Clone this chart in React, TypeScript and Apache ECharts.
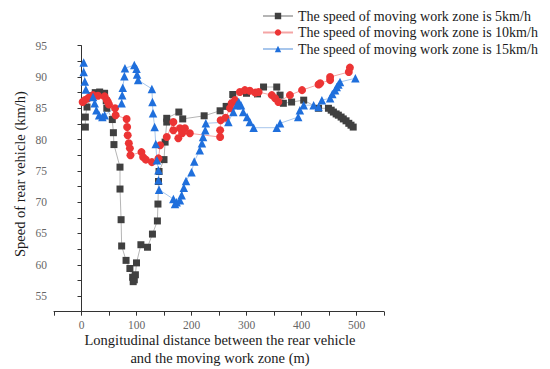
import React, { useEffect, useRef } from "react";
import * as echarts from "echarts";

const legendNames = [
  "The speed of moving work zone is 5km/h",
  "The speed of moving work zone is 10km/h",
  "The speed of moving work zone is 15km/h",
];

const xTitleLines = [
  "Longitudinal distance between the rear vehicle",
  "and the moving work zone (m)",
];
const yTitle = "Speed of rear vehicle (km/h)";

// 5 km/h series: [distance, speed]
const speed5: number[][] = [
  [7, 82.0], [7, 83.6], [10, 85.2], [18, 87.0], [25, 87.5], [33, 87.6], [42, 87.4],
  [45, 86.2], [46, 85.0], [56, 83.2], [58, 81.1], [59, 79.2], [70, 75.6], [70, 72.1],
  [72, 67.2], [73, 63.0], [81, 60.7], [88, 59.4], [93, 58.0], [94, 57.3], [96, 57.6],
  [98, 58.4], [100, 60.3], [108, 63.2], [120, 62.8], [129, 64.9], [138, 67.0],
  [139, 69.7], [140, 73.3], [141, 74.9], [150, 76.8], [152, 79.6], [155, 82.8],
  [155, 83.4], [177, 84.4], [184, 83.3], [223, 83.8], [252, 84.6], [263, 85.3],
  [275, 87.2], [300, 87.4], [320, 87.3], [331, 88.4], [355, 88.4], [361, 87.1],
  [367, 85.8], [382, 86.0], [404, 86.3], [431, 85.0], [449, 85.0], [454, 84.7],
  [458, 84.4], [463, 84.1], [467, 83.9], [472, 83.6], [476, 83.3], [481, 83.0],
  [486, 82.6], [490, 82.3], [494, 82.0],
];

// 10 km/h series
const speed10: number[][] = [
  [2, 86.0], [6, 86.3], [12, 86.6], [15, 86.8], [21, 87.1], [30, 87.0], [42, 86.9],
  [46, 86.3], [48, 86.0], [50, 85.6], [61, 85.0], [62, 83.9], [82, 83.3], [83, 82.0],
  [84, 80.7], [86, 79.4], [88, 78.6], [89, 77.5], [109, 78.0], [112, 77.2], [117, 76.8],
  [128, 76.4], [140, 77.0], [143, 79.1], [155, 80.4], [167, 82.8], [167, 81.5],
  [176, 80.2], [179, 81.8], [183, 81.0], [188, 81.8], [197, 81.0], [252, 80.4],
  [252, 81.5], [253, 83.1], [262, 83.5], [270, 85.0], [273, 85.8], [279, 86.3],
  [288, 87.6], [297, 87.9], [306, 87.8], [316, 87.5], [322, 87.6], [346, 87.1],
  [352, 86.6], [358, 86.0], [379, 87.1], [401, 87.9], [431, 88.8], [434, 89.0],
  [452, 89.5], [452, 90.0], [486, 90.8], [488, 91.5],
];

// 15 km/h series
const speed15: number[][] = [
  [4, 92.3], [4, 90.8], [6, 89.3], [8, 88.0], [21, 86.8], [24, 85.8], [27, 84.7],
  [32, 83.9], [38, 83.6], [42, 83.9], [73, 85.8], [74, 87.1], [75, 88.3], [78, 90.1],
  [79, 91.4], [96, 91.9], [100, 91.3], [101, 90.4], [103, 89.5], [128, 88.1],
  [129, 86.0], [130, 84.2], [133, 82.0], [135, 79.3], [137, 76.7], [140, 75.1],
  [140, 73.5], [141, 72.0], [167, 70.5], [170, 69.7], [173, 70.0], [179, 70.3],
  [182, 71.1], [186, 72.3], [190, 73.4], [200, 74.8], [205, 76.5], [215, 78.3],
  [219, 79.4], [221, 80.4], [225, 81.5], [226, 82.6], [267, 82.8], [276, 84.4],
  [282, 85.5], [286, 86.0], [290, 85.5], [294, 84.4], [301, 83.6], [306, 82.8],
  [313, 81.9], [355, 81.9], [361, 82.6], [394, 83.6], [397, 84.7], [404, 85.5],
  [422, 85.5], [431, 85.2], [437, 86.3], [452, 86.6], [456, 87.3], [461, 87.9],
  [464, 88.4], [467, 88.8], [470, 89.2], [498, 89.8],
];

const FONT = "Liberation Serif";

const tickRich = {
  t: { fontFamily: FONT, fontSize: 11.5, color: "#666" },
};

export default function App() {
  const ref = useRef<HTMLDivElement>(null);
  useEffect(() => {
    if (!ref.current) return;
    const chart = echarts.init(ref.current, null, { renderer: "svg" });
    chart.setOption({
      animation: false,
      backgroundColor: "#ffffff",
      textStyle: { fontFamily: FONT },
      grid: { left: 54, top: 45.7, right: 166, bottom: 57.3, containLabel: false },
      legend: {
        orient: "vertical",
        left: 257,
        top: 3,
        itemWidth: 30,
        itemHeight: 8,
        itemGap: 0.5,
        textStyle: { fontFamily: FONT, fontSize: 14, color: "#1a1a1a", lineHeight: 16 },
        data: legendNames,
      },
      xAxis: {
        type: "value",
        min: -50,
        max: 550,
        interval: 50,
        splitLine: { show: false },
        axisLine: { show: true, lineStyle: { color: "#333", width: 1 } },
        axisTick: { show: true, length: 4, lineStyle: { color: "#333" } },
        axisLabel: {
          color: "#666",
          fontFamily: FONT,
          fontSize: 11.5,
          margin: 7,
          rich: tickRich,
          formatter: (v: number) =>
            v >= 0 && v <= 500 && v % 100 === 0 ? "{t|" + v + "}" : "",
        },
      },
      yAxis: {
        type: "value",
        min: 52.5,
        max: 95,
        interval: 2.5,
        splitLine: { show: false },
        axisLine: { show: true, lineStyle: { color: "#333", width: 1 } },
        axisTick: { show: true, length: 4, lineStyle: { color: "#333" } },
        axisLabel: {
          color: "#666",
          fontFamily: FONT,
          fontSize: 11.5,
          margin: 7,
          rich: tickRich,
          formatter: (v: number) => (v % 5 === 0 ? "{t|" + v + "}" : ""),
        },
      },
      graphic: [
        {
          type: "text",
          x: 220,
          y: 340,
          style: {
            text: xTitleLines[0],
            fontFamily: FONT,
            fontSize: 14.5,
            fill: "#1a1a1a",
            align: "center",
            verticalAlign: "middle",
          },
        },
        {
          type: "text",
          x: 220,
          y: 358,
          style: {
            text: xTitleLines[1],
            fontFamily: FONT,
            fontSize: 14.5,
            fill: "#1a1a1a",
            align: "center",
            verticalAlign: "middle",
          },
        },
        {
          type: "text",
          x: 20,
          y: 257,
          rotation: Math.PI / 2,
          style: {
            text: yTitle,
            fontFamily: FONT,
            fontSize: 14.5,
            fill: "#1a1a1a",
            align: "left",
            verticalAlign: "middle",
          },
        },
      ],
      series: [
        {
          name: legendNames[0],
          type: "line",
          data: speed5,
          symbol: "rect",
          symbolSize: 7,
          itemStyle: { color: "#404040" },
          lineStyle: { color: "#b5b5b5", width: 1 },
        },
        {
          name: legendNames[1],
          type: "line",
          data: speed10,
          symbol: "circle",
          symbolSize: 8,
          itemStyle: { color: "#ec3434" },
          lineStyle: { color: "#f4a5a5", width: 1 },
        },
        {
          name: legendNames[2],
          type: "line",
          data: speed15,
          symbol: "triangle",
          symbolSize: 8.5,
          itemStyle: { color: "#1f6fdc" },
          lineStyle: { color: "#a7c6ec", width: 1 },
        },
      ],
    });
    return () => chart.dispose();
  }, []);
  return (
    <div
      ref={ref}
      style={{ position: "fixed", left: 0, top: 0, width: 550, height: 369 }}
    />
  );
}
